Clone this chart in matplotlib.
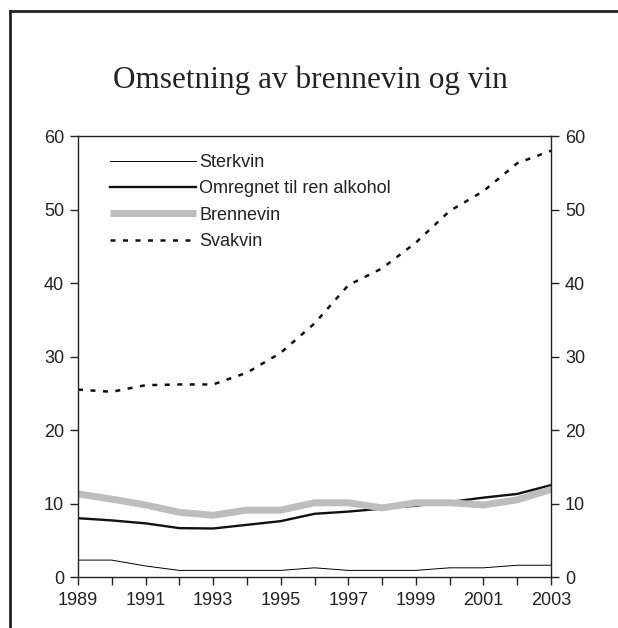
import matplotlib.pyplot as plt
from matplotlib.lines import Line2D

plt.rcParams.update({'font.family': 'Liberation Sans', 'font.size': 13})

aar = list(range(1989, 2004))
sterkvin = [2.3, 2.3, 1.5, 0.9, 0.9, 0.9, 0.9, 1.25, 0.9, 0.9, 0.9, 1.25, 1.25, 1.6, 1.6]
ren_alkohol = [8.0, 7.7, 7.3, 6.65, 6.6, 7.1, 7.6, 8.6, 8.9, 9.3, 9.7, 10.2, 10.8, 11.3, 12.5]
brennevin = [11.3, 10.6, 9.8, 8.8, 8.4, 9.1, 9.1, 10.1, 10.1, 9.4, 10.1, 10.1, 9.8, 10.5, 11.9]
svakvin = [25.5, 25.2, 26.1, 26.2, 26.2, 27.8, 30.5, 34.5, 39.7, 42.0, 45.5, 49.8, 52.5, 56.3, 58.0]

fig = plt.figure(figsize=(6.18, 6.28), dpi=100)
ax = fig.add_axes([0.1262, 0.0812, 0.7654, 0.7022])

ax.plot(aar, sterkvin, color='black', lw=0.7, label='Sterkvin')
ax.plot(aar, ren_alkohol, color='#111111', lw=1.7, label='Omregnet til ren alkohol')
ax.plot(aar, brennevin, color='#BDBDBD', lw=5, label='Brennevin', solid_capstyle='butt')
ax.plot(aar, svakvin, color='#111111', lw=1.8, linestyle=(0, (2, 3)), label='Svakvin')

ax.set_xlim(1989, 2003)
ax.set_ylim(0, 60)
ax.set_xticks(aar)
ax.set_xticklabels([str(a) if a % 2 == 1 else '' for a in aar])
ax.set_yticks(range(0, 61, 10))
ax.tick_params(axis='both', direction='out', length=6, width=1, color='#222222', labelcolor='#222222')
ax.tick_params(axis='y', right=True, labelright=True, pad=4)
ax.tick_params(axis='x', pad=5)
for s in ax.spines.values():
    s.set_linewidth(1)
    s.set_color('#222222')

handles, labels = ax.get_legend_handles_labels()
leg = ax.legend(handles, labels, loc='upper left', bbox_to_anchor=(0.052, 0.976), frameon=False,
                fontsize=13, handlelength=4.8, handletextpad=0.15, labelspacing=0.52,
                borderaxespad=0)
for t in leg.get_texts():
    t.set_color('#222222')

fig.text(0.503, 0.873, 'Omsetning av brennevin og vin', ha='center', va='center',
         family='Liberation Serif', fontsize=22.5, color='#222222')

# ramme rundt figuren
fig.add_artist(Line2D([9.5 / 618, 1.0], [1 - 11 / 628] * 2, transform=fig.transFigure, color='#222222', lw=2))
fig.add_artist(Line2D([9.5 / 618] * 2, [0.0, 1 - 11 / 628], transform=fig.transFigure, color='#222222', lw=2))

fig.savefig('out.png', dpi=100)
